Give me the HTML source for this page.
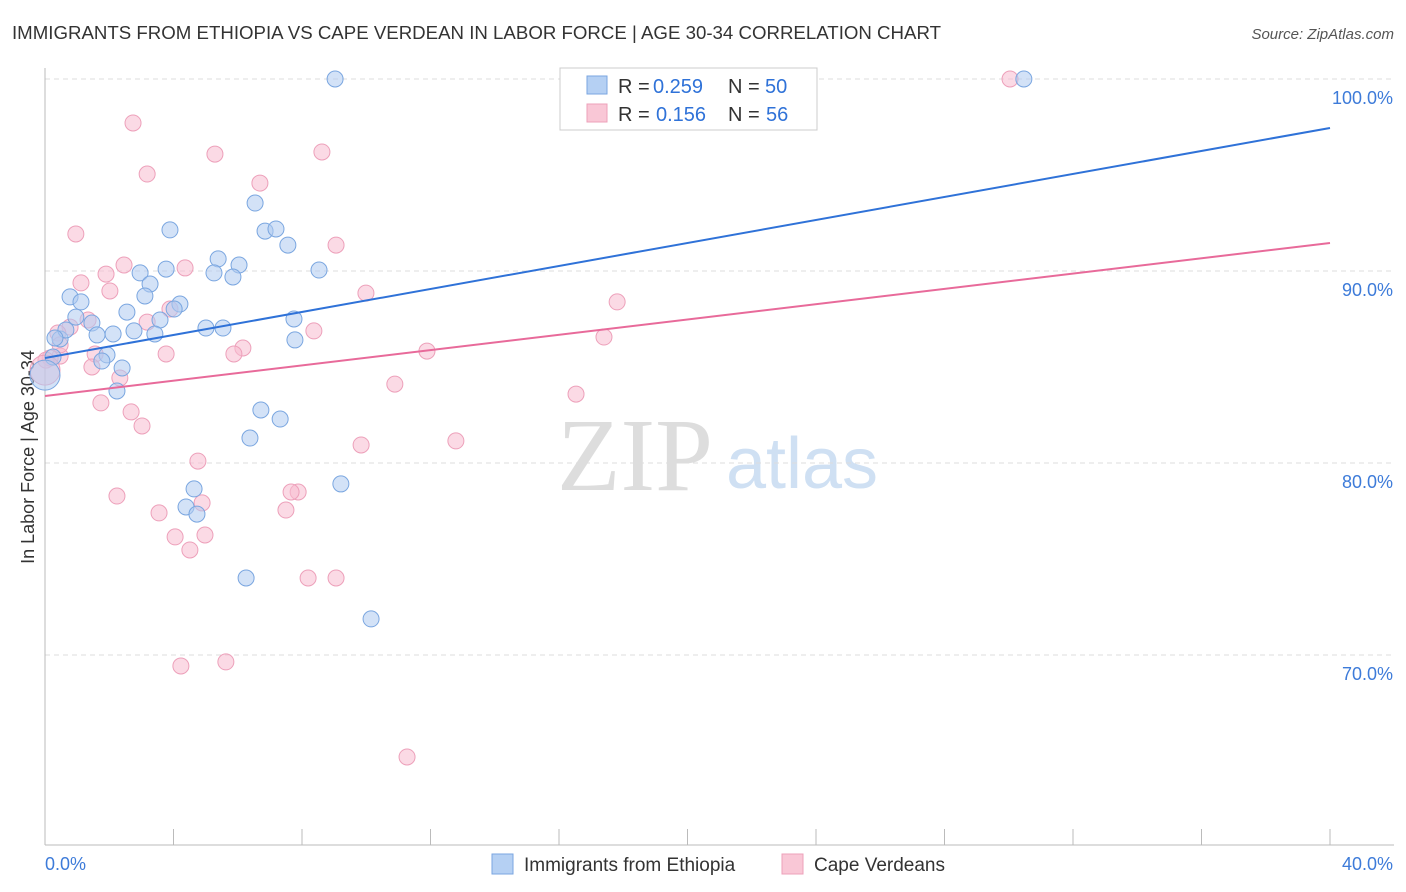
<!DOCTYPE html>
<html><head><meta charset="utf-8"><style>
body{margin:0;background:#fff;font-family:"Liberation Sans",sans-serif}
svg{display:block}
</style></head><body>
<svg id="c" width="1406" height="892">
<text x="12" y="39" font-size="18" fill="#333" textLength="929" lengthAdjust="spacingAndGlyphs">IMMIGRANTS FROM ETHIOPIA VS CAPE VERDEAN IN LABOR FORCE | AGE 30-34 CORRELATION CHART</text>
<text x="1394" y="39" font-size="15" fill="#555" text-anchor="end" font-style="italic">Source: ZipAtlas.com</text>
<text x="635" y="490" font-size="104" fill="#ddd" font-family="Liberation Serif" text-anchor="middle">ZIP</text>
<text x="802" y="488" font-size="72" fill="#cfe0f3" text-anchor="middle">atlas</text>
<text transform="translate(34,457) rotate(-90)" font-size="18" fill="#333" text-anchor="middle">In Labor Force | Age 30-34</text>
<g id="grid"></g><g id="marks"></g>
<g>
<rect x="560" y="68" width="257" height="62" fill="#fff" stroke="#ccc"/>
<rect x="587" y="76" width="20" height="18" fill="#b5d0f3" stroke="#7aa6e0"/>
<text y="93" font-size="20" fill="#333"><tspan x="618">R =</tspan><tspan x="653" fill="#2f72d8">0.259</tspan><tspan x="728">N =</tspan><tspan x="765" fill="#2f72d8">50</tspan></text>
<rect x="587" y="104" width="20" height="18" fill="#f9c7d6" stroke="#eda0ba"/>
<text y="121" font-size="20" fill="#333"><tspan x="618">R =</tspan><tspan x="656" fill="#2f72d8">0.156</tspan><tspan x="728">N =</tspan><tspan x="766" fill="#2f72d8">56</tspan></text>
</g>
<g>
<rect x="492" y="854" width="21" height="20" fill="#b5d0f3" stroke="#7aa6e0"/>
<text x="524" y="871" font-size="19" fill="#333">Immigrants from Ethiopia</text>
<rect x="782" y="854" width="21" height="20" fill="#f9c7d6" stroke="#eda0ba"/>
<text x="814" y="871" font-size="19" fill="#333">Cape Verdeans</text>
</g>
</svg>
<script>
const blueX=[9.03,30.47,6.54,3.89,6.85,7.19,7.56,5.39,6.04,3.77,2.96,5.26,5.85,8.53,0.78,1.12,3.27,3.11,4.20,4.02,2.55,0.96,1.46,3.58,7.75,5.01,5.54,2.12,1.62,2.77,3.42,0.47,0.65,7.78,1.93,0.25,1.77,2.40,0,2.24,6.72,7.32,6.38,9.21,4.64,4.39,4.73,6.26,10.15,0.31];
const blueY=[100,100,93.54,92.14,92.08,92.19,91.35,90.63,90.31,90.10,89.90,89.90,89.69,90.05,88.65,88.39,89.32,88.70,88.28,88.02,87.86,87.60,87.29,87.45,87.50,87.03,87.03,86.72,86.67,86.88,86.72,86.46,86.93,86.41,85.63,85.52,85.31,84.95,84.58,83.75,82.76,82.29,81.30,78.91,78.65,77.71,77.34,74.01,71.88,86.51];
const pinkX=[30.04,2.74,8.62,5.29,3.18,6.69,0.96,9.06,2.46,4.36,1.90,1.12,2.02,9.99,17.81,3.89,3.18,1.34,0.78,8.37,0.40,17.40,6.16,5.88,3.77,1.56,11.89,0.47,1.46,2.33,10.89,16.53,1.74,2.68,3.02,12.79,9.84,4.76,2.24,4.89,7.88,7.66,7.50,3.55,4.05,4.98,4.51,8.19,9.06,4.23,5.63,11.27,0.16,0.03,0,0.47];
const pinkY=[100,97.71,96.20,96.09,95.05,94.58,91.93,91.35,90.31,90.16,89.84,89.38,88.96,88.85,88.39,88.02,87.34,87.45,87.08,86.88,86.77,86.56,85.99,85.68,85.68,85.68,85.83,85.57,85.00,84.43,84.11,83.59,83.13,82.66,81.93,81.15,80.94,80.10,78.28,77.92,78.49,78.49,77.55,77.40,76.15,76.25,75.47,74.01,74.01,69.43,69.64,64.69,85.47,85.36,84.84,86.15];
const blueTrend=[85.47,97.45];
const pinkTrend=[83.49,91.46];
const yTicks=[100,90,80,70];
const xTicks=[0,4,8,12,16,20,24,28,32,36,40];
const NS="http://www.w3.org/2000/svg";
const sx=v=>45+v*32.125, sy=v=>79+(100-v)*19.2;
function mk(t,a,p){const e=document.createElementNS(NS,t);for(const k in a)e.setAttribute(k,a[k]);p.appendChild(e);return e;}
const g=document.getElementById('grid'),m=document.getElementById('marks');
yTicks.forEach(v=>{const l=mk('line',{x1:45,x2:1394,y1:sy(v),y2:sy(v),stroke:'#ddd','stroke-dasharray':'5,4'},g);


const t=mk('text',{x:1393,y:sy(v)+25,'font-size':18,fill:'#3d7bd9','text-anchor':'end'},g);t.textContent=v.toFixed(1)+'%';

});
const ax=mk('line',{x1:45,x2:45,y1:68,y2:845,stroke:'#bbb'},g);


const bx=mk('line',{x1:45,x2:1394,y1:845,y2:845,stroke:'#bbb'},g);


xTicks.forEach(v=>{const l=mk('line',{x1:sx(v),x2:sx(v),y1:829,y2:845,stroke:'#bbb'},g);

});
[[0,'start'],[40,'end']].forEach(([v,a])=>{const t=mk('text',{x:v?1393:45,y:870,'font-size':18,fill:'#3d7bd9','text-anchor':a},g);t.textContent=v.toFixed(1)+'%';

});
function pts(X,Y,fill,stroke,name){X.forEach((x,i)=>{const big=(x===0);const c=mk('circle',{cx:sx(x),cy:sy(Y[i]),r:big?15:8,fill:fill,'fill-opacity':0.55,stroke:stroke,'stroke-width':1},m);

});}
pts(pinkX,pinkY,'#f7bccf','#eda0ba','cape-verdean-point');
pts(blueX,blueY,'#aecbf1','#7aa6e0','ethiopia-point');
const bl=mk('line',{x1:sx(0),y1:sy(blueTrend[0]),x2:sx(40),y2:sy(blueTrend[1]),stroke:'#2f72d8','stroke-width':2},m);


const pl=mk('line',{x1:sx(0),y1:sy(pinkTrend[0]),x2:sx(40),y2:sy(pinkTrend[1]),stroke:'#e86a9a','stroke-width':2},m);


</script>
</body></html>
